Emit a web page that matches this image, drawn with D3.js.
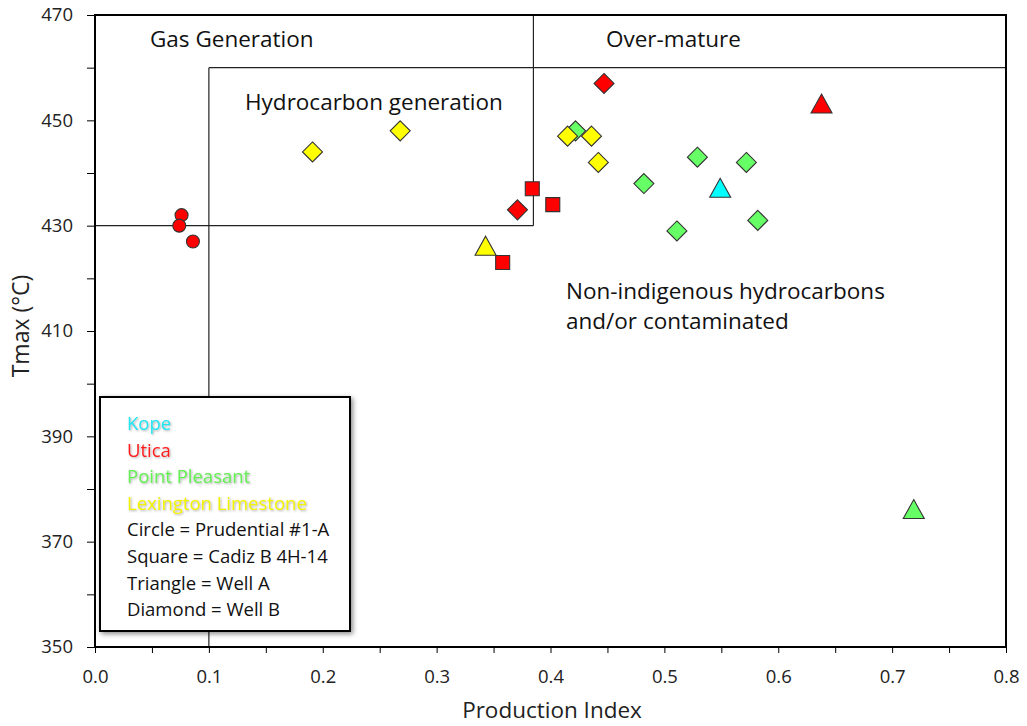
<!DOCTYPE html>
<html>
<head>
<meta charset="utf-8">
<script src="https://cdn.jsdelivr.net/npm/d3@7"></script>
<style>
  html, body { margin: 0; padding: 0; background: #fff; }
  svg { display: block; font-family: "Open Sans", "Noto Sans", sans-serif; }
</style>
</head>
<body>
<svg id="chart" width="1027" height="726"></svg>
<script>
// Samples per formation: [well, production index, Tmax (°C)]
const kope = [
  ["Well A", 0.549, 437]
];
const utica = [
  ["Prudential #1-A", 0.076, 432],
  ["Prudential #1-A", 0.074, 430],
  ["Prudential #1-A", 0.086, 427],
  ["Cadiz B 4H-14", 0.384, 437],
  ["Cadiz B 4H-14", 0.402, 434],
  ["Cadiz B 4H-14", 0.358, 423],
  ["Well B", 0.447, 457],
  ["Well B", 0.371, 433],
  ["Well A", 0.638, 453]
];
const pointPleasant = [
  ["Well B", 0.422, 448],
  ["Well B", 0.529, 443],
  ["Well B", 0.572, 442],
  ["Well B", 0.482, 438],
  ["Well B", 0.511, 429],
  ["Well B", 0.582, 431],
  ["Well A", 0.719, 376]
];
const lexington = [
  ["Well B", 0.191, 444],
  ["Well B", 0.268, 448],
  ["Well B", 0.415, 447],
  ["Well B", 0.436, 447],
  ["Well B", 0.442, 442],
  ["Well A", 0.343, 426]
];

const formationNames = ["Kope", "Utica", "Point Pleasant", "Lexington Limestone"];
const wellKey = ["Circle = Prudential #1-A", "Square = Cadiz B 4H-14", "Triangle = Well A", "Diamond = Well B"];

// Maturity field boundaries (production index, Tmax)
const gasWindowPI = 0.385;      // gas generation field: PI < 0.385, Tmax > 430
const gasWindowTmax = 430;
const hcWindowPI = 0.1;         // hydrocarbon generation field starts at PI 0.1
const overMatureTmax = 460;     // over-mature above 460 °C

const xTicks = d3.range(0, 17).map(i => i * 0.05);
const yTicks = d3.range(350, 471, 10);

const svg = d3.select("#chart");
const plotL = 95, plotR = 1006, plotT = 15, plotB = 647;

const x = d3.scaleLinear().domain([0, 0.8]).range([plotL, plotR]);
const y = d3.scaleLinear().domain([350, 470]).range([plotB, plotT]);

const defs = svg.append("defs");
const sh = defs.append("filter").attr("id", "boxShadow")
  .attr("x", "-10%").attr("y", "-10%").attr("width", "130%").attr("height", "130%");
sh.append("feDropShadow").attr("dx", 2).attr("dy", 2).attr("stdDeviation", 2.5)
  .attr("flood-color", "#000").attr("flood-opacity", 0.45);
const glow = defs.append("filter").attr("id", "textGlow")
  .attr("x", "-10%").attr("y", "-30%").attr("width", "120%").attr("height", "160%");
glow.append("feDropShadow").attr("dx", 1).attr("dy", 1).attr("stdDeviation", 0.8)
  .attr("flood-color", "#555").attr("flood-opacity", 0.5);

// Axes
const yAxis = d3.axisLeft(y).tickValues(yTicks).tickSize(8).tickPadding(14)
  .tickFormat(d => (d - 350) % 20 === 0 ? d : "");
const gy = svg.append("g").attr("transform", `translate(${plotL},0)`).call(yAxis);
gy.select(".domain").remove();
gy.selectAll(".tick line").attr("stroke", "#000").attr("stroke-width", 1);
gy.selectAll(".tick text").attr("font-size", 18.5).attr("fill", "#222")
  .attr("font-family", "'Open Sans', sans-serif");

const xAxis = d3.axisBottom(x).tickValues(xTicks).tickSize(6).tickPadding(17)
  .tickFormat(d => Math.round(d * 100) % 10 === 0 ? d3.format(".1f")(d) : "");
const gx = svg.append("g").attr("transform", `translate(0,${plotB})`).call(xAxis);
gx.select(".domain").remove();
gx.selectAll(".tick line").attr("stroke", "#000").attr("stroke-width", 1);
gx.selectAll(".tick text").attr("font-size", 18.5).attr("fill", "#222")
  .attr("font-family", "'Open Sans', sans-serif");

// Axis titles
svg.append("text").attr("x", 552).attr("y", 718)
  .attr("text-anchor", "middle").attr("font-size", 22.5).attr("fill", "#222")
  .text("Production Index");
svg.append("text").attr("transform", "translate(29,326) rotate(-90)")
  .attr("text-anchor", "middle").attr("font-size", 23).attr("fill", "#222")
  .text("Tmax (°C)");

// Maturity field boundary lines
const bounds = svg.append("g").attr("stroke", "#222").attr("stroke-width", 1.2).attr("fill", "none");
bounds.append("line").attr("x1", x(0)).attr("x2", x(gasWindowPI))
  .attr("y1", y(gasWindowTmax)).attr("y2", y(gasWindowTmax));
bounds.append("line").attr("x1", x(gasWindowPI)).attr("x2", x(gasWindowPI))
  .attr("y1", y(470)).attr("y2", y(gasWindowTmax));
bounds.append("line").attr("x1", x(hcWindowPI)).attr("x2", x(0.8))
  .attr("y1", y(overMatureTmax)).attr("y2", y(overMatureTmax));
bounds.append("line").attr("x1", x(hcWindowPI)).attr("x2", x(hcWindowPI))
  .attr("y1", y(overMatureTmax)).attr("y2", y(350));

// Field labels
const fieldText = svg.append("g").attr("font-size", 22.5).attr("fill", "#111");
fieldText.append("text").attr("x", 150).attr("y", 47).text("Gas Generation");
fieldText.append("text").attr("x", 606).attr("y", 47).text("Over-mature");
fieldText.append("text").attr("x", 245).attr("y", 110).text("Hydrocarbon generation");
fieldText.append("text").attr("x", 566).attr("y", 299).text("Non-indigenous hydrocarbons");
fieldText.append("text").attr("x", 566).attr("y", 329).text("and/or contaminated");

// Plot frame
svg.append("rect").attr("x", plotL).attr("y", plotT)
  .attr("width", plotR - plotL).attr("height", plotB - plotT)
  .attr("fill", "none").attr("stroke", "#000").attr("stroke-width", 2);

// Markers: shape by well, colour by formation
const shapePath = {
  "Prudential #1-A": () => "M-6.5,0a6.5,6.5 0 1,0 13,0a6.5,6.5 0 1,0 -13,0Z",
  "Cadiz B 4H-14": () => "M-7,-7H7V7H-7Z",
  "Well A": () => "M0,-10.5L10.5,8.5H-10.5Z",
  "Well B": () => "M0,-10L10,0L0,10L-10,0Z"
};
const series = [
  { data: pointPleasant, fill: "#66ff66" },
  { data: lexington, fill: "#ffff00" },
  { data: utica, fill: "#ff0000" },
  { data: kope, fill: "#00ffff" }
];
const marks = svg.append("g");
series.forEach(s => {
  marks.append("g").selectAll("path").data(s.data).join("path")
    .attr("transform", d => `translate(${x(d[1])},${y(d[2])})`)
    .attr("d", d => shapePath[d[0]]())
    .attr("fill", s.fill)
    .attr("stroke", "#333")
    .attr("stroke-width", 1.1);
});

// Legend box
const lg = svg.append("g");
lg.append("rect").attr("x", 100).attr("y", 397).attr("width", 250).attr("height", 234)
  .attr("fill", "#fff").attr("stroke", "#000").attr("stroke-width", 2)
  .attr("filter", "url(#boxShadow)");
const legendColours = ["#22e5f2", "#ff1a1a", "#66ee55", "#f2f200"];
const lineGap = 26.6;
formationNames.forEach((n, i) => {
  lg.append("text").attr("x", 127).attr("y", 430 + i * lineGap)
    .attr("font-size", 18.5).attr("fill", legendColours[i])
    .attr("filter", "url(#textGlow)").text(n);
});
wellKey.forEach((n, i) => {
  lg.append("text").attr("x", 127).attr("y", 430 + (i + 4) * lineGap)
    .attr("font-size", 18.5).attr("fill", "#111").text(n);
});
</script>
</body>
</html>
